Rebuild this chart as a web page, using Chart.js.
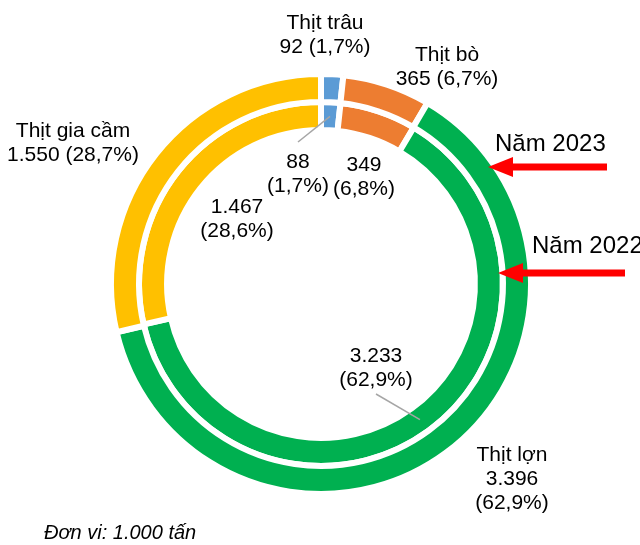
<!DOCTYPE html>
<html>
<head>
<meta charset="utf-8">
<script src="https://cdn.jsdelivr.net/npm/chart.js@4.4.1/dist/chart.umd.min.js"></script>
<style>
    html, body { margin: 0; padding: 0; background: #fff; }
    #chart { display: block; }
</style>
</head>
<body>
<canvas id="chart" width="640" height="545"></canvas>
<script>
// dữ liệu (nghìn tấn)
const categories = ['Thịt trâu', 'Thịt bò', 'Thịt lợn', 'Thịt gia cầm'];
const years = ['Năm 2023', 'Năm 2022'];
const values2023 = [92, 365, 3396, 1550];
const values2022 = [88, 349, 3233, 1467];
const pct2023 = [1.7, 6.7, 62.9, 28.7];
const pct2022 = [1.7, 6.8, 62.9, 28.6];
const colors = ['#5B9BD5', '#ED7D31', '#00B050', '#FFC000'];

// vị trí nhãn (baseline dòng đầu)
const outerLabelPos = [[325, 29], [447, 61], [512, 461], [73, 137]];
const innerLabelPos = [[298, 168], [364, 171], [376, 362], [237, 213]];
const innerLeader = {0: [298, 142], 2: [376, 394]};

const FONT = '"Liberation Sans", Arial, sans-serif';

function fmtNum(v) {
    return String(v).replace(/\B(?=(\d{3})+(?!\d))/g, '.');
}
function fmtPct(p) {
    return '(' + p.toFixed(1).replace('.', ',') + '%)';
}

function drawLines(ctx, lines, x, y, lh) {
    lines.forEach(function (t, i) {
        ctx.fillText(t, x, y + i * lh);
    });
}

function drawArrow(ctx, tipX, y, tailX) {
    ctx.save();
    ctx.strokeStyle = '#FF0000';
    ctx.fillStyle = '#FF0000';
    ctx.lineWidth = 7;
    ctx.beginPath();
    ctx.moveTo(tailX, y);
    ctx.lineTo(tipX + 20, y);
    ctx.stroke();
    ctx.beginPath();
    ctx.moveTo(tipX, y);
    ctx.lineTo(tipX + 25, y - 10);
    ctx.lineTo(tipX + 25, y + 10);
    ctx.closePath();
    ctx.fill();
    ctx.restore();
}

const labelPlugin = {
    id: 'nhanDuLieu',
    afterDatasetsDraw: function (chart) {
        const ctx = chart.ctx;
        ctx.save();

        // đường dẫn nhãn vòng trong
        ctx.strokeStyle = '#A6A6A6';
        ctx.lineWidth = 1.5;
        Object.keys(innerLeader).forEach(function (k) {
            const p = chart.getDatasetMeta(1).data[k].tooltipPosition();
            ctx.beginPath();
            ctx.moveTo(innerLeader[k][0], innerLeader[k][1]);
            ctx.lineTo(p.x, p.y);
            ctx.stroke();
        });

        ctx.fillStyle = '#000';
        ctx.textAlign = 'center';
        ctx.textBaseline = 'alphabetic';
        ctx.font = '21px ' + FONT;

        // nhãn vòng ngoài (2023)
        categories.forEach(function (c, i) {
            let lines;
            if (i == 2) {
                lines = [c, fmtNum(values2023[i]), fmtPct(pct2023[i])];
            } else {
                lines = [c, fmtNum(values2023[i]) + ' ' + fmtPct(pct2023[i])];
            }
            drawLines(ctx, lines, outerLabelPos[i][0], outerLabelPos[i][1], 24);
        });

        // nhãn vòng trong (2022)
        values2022.forEach(function (v, i) {
            drawLines(ctx, [fmtNum(v), fmtPct(pct2022[i])], innerLabelPos[i][0], innerLabelPos[i][1], 24);
        });

        // chú thích năm
        ctx.textAlign = 'left';
        ctx.font = '24px ' + FONT;
        ctx.fillText(years[0], 495, 151);
        ctx.fillText(years[1], 532, 253);
        drawArrow(ctx, 488, 167, 607);
        drawArrow(ctx, 498, 273, 625);

        // đơn vị
        ctx.fillStyle = '#000';
        ctx.font = 'italic 20px ' + FONT;
        ctx.fillText('Đơn vi: 1.000 tấn', 44, 539);

        ctx.restore();
    }
};

new Chart(document.getElementById('chart').getContext('2d'), {
    type: 'doughnut',
    data: {
        labels: categories,
        datasets: [
            {
                label: years[0],
                data: values2023,
                backgroundColor: colors,
                borderColor: '#ffffff',
                borderWidth: 6,
                hoverBorderWidth: 6,
                borderJoinStyle: 'miter'
            },
            {
                label: years[1],
                data: values2022,
                backgroundColor: colors,
                borderColor: '#ffffff',
                borderWidth: 6,
                hoverBorderWidth: 6,
                borderJoinStyle: 'miter'
            }
        ]
    },
    options: {
        responsive: false,
        animation: false,
        events: [],
        cutout: '73.3%',
        layout: {
            padding: {left: 108, right: 106, top: 71, bottom: 48}
        },
        plugins: {
            legend: {display: false},
            tooltip: {enabled: false}
        }
    },
    plugins: [labelPlugin]
});
</script>
</body>
</html>
